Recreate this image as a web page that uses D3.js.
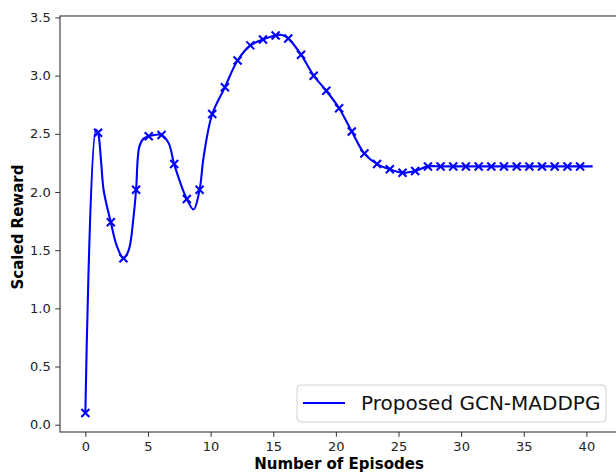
<!DOCTYPE html>
<html>
<head>
<meta charset="utf-8">
<script src="https://cdn.jsdelivr.net/npm/d3@7"></script>
<style>
  html, body { margin: 0; padding: 0; background: #fff; }
  svg { display: block; }
</style>
</head>
<body>
<svg id="chart" width="616" height="472"></svg>
<script>
// ---- data ----
const episodes = [0, 1.01, 2.03, 3.04, 4.05, 5.06, 6.08, 7.09, 8.10, 9.12,
  10.13, 11.14, 12.15, 13.17, 14.18, 15.19, 16.20, 17.22, 18.23, 19.24,
  20.26, 21.27, 22.28, 23.29, 24.31, 25.32, 26.33, 27.35, 28.36, 29.37,
  30.38, 31.40, 32.41, 33.42, 34.44, 35.45, 36.46, 37.47, 38.49, 39.50];
const reward = [0.10, 2.51, 1.74, 1.43, 2.02, 2.48, 2.49, 2.24, 1.94, 2.02,
  2.67, 2.90, 3.13, 3.26, 3.31, 3.345, 3.32, 3.18, 3.00, 2.87,
  2.72, 2.52, 2.33, 2.24, 2.195, 2.165, 2.18, 2.22, 2.22, 2.22,
  2.22, 2.22, 2.22, 2.22, 2.22, 2.22, 2.22, 2.22, 2.22, 2.22];
// extra points of the smoothed curve between markers
const curveX = [0.85, 1.25, 1.46, 2.53, 3.46, 3.85, 4.31, 4.65, 6.65, 8.64, 9.44, 15.7, 40.5];
const curveY = [2.535, 2.27, 2.015, 1.53, 1.50, 1.79, 2.39, 2.46, 2.42, 1.85, 2.30, 3.35, 2.22];
const xTicks = [0, 5, 10, 15, 20, 25, 30, 35, 40];
const yTicks = [0.0, 0.5, 1.0, 1.5, 2.0, 2.5, 3.0, 3.5];
const seriesName = "Proposed GCN-MADDPG";
const xLabel = "Number of Episodes";
const yLabel = "Scaled Reward";

// ---- layout ----
const svg = d3.select("#chart");
const L = 60, R = 618, T = 16, B = 432;
const x = d3.scaleLinear().domain([-2.025, 42.525]).range([L, R]);
const y = d3.scaleLinear().domain([-0.0625, 3.5125]).range([B, T]);
const blue = "#0000ff";
const font = "DejaVu Sans, sans-serif";

// curve points: markers + extra knots, sorted by x
const pts = episodes.map((e, i) => [e, reward[i]])
  .concat(curveX.map((e, i) => [e, curveY[i]]))
  .sort((a, b) => a[0] - b[0]);

const line = d3.line()
  .x(d => x(d[0])).y(d => y(d[1]))
  .curve(d3.curveCatmullRom.alpha(0.5));

svg.append("path")
  .datum(pts)
  .attr("d", line)
  .attr("fill", "none")
  .attr("stroke", blue)
  .attr("stroke-width", 2.1)
  .attr("stroke-linejoin", "round");

// markers 'x'
const ms = 4;
const mk = svg.append("g");
episodes.forEach((e, i) => {
  const cx = x(e), cy = y(reward[i]);
  mk.append("path")
    .attr("d", `M${cx - ms},${cy - ms}L${cx + ms},${cy + ms}M${cx - ms},${cy + ms}L${cx + ms},${cy - ms}`)
    .attr("stroke", blue).attr("stroke-width", 2.1).attr("fill", "none");
});

// axes
const xAxis = d3.axisBottom(x).tickValues(xTicks).tickSize(4.8).tickPadding(4.5)
  .tickFormat(d3.format("d"));
const yAxis = d3.axisLeft(y).tickValues(yTicks).tickSize(4.8).tickPadding(4.5)
  .tickFormat(d3.format(".1f"));

const gx = svg.append("g").attr("transform", `translate(0,${B})`).call(xAxis);
const gy = svg.append("g").attr("transform", `translate(${L},0)`).call(yAxis);
[gx, gy].forEach(g => {
  g.select(".domain").remove();
  g.selectAll(".tick line").attr("stroke", "#333").attr("stroke-width", 1);
  g.selectAll(".tick text").attr("fill", "#222")
    .style("font-family", font).style("font-size", "13px");
});

// spines
svg.append("rect")
  .attr("x", L).attr("y", T).attr("width", R - L).attr("height", B - T)
  .attr("fill", "none").attr("stroke", "#333").attr("stroke-width", 1.1);

// axis labels
svg.append("text")
  .attr("x", 339).attr("y", 469)
  .attr("text-anchor", "middle")
  .style("font-family", font).style("font-size", "15px").style("font-weight", "bold")
  .attr("fill", "#000")
  .text(xLabel);
svg.append("text")
  .attr("transform", `translate(23,${(T + B) / 2 + 3}) rotate(-90)`)
  .attr("text-anchor", "middle")
  .style("font-family", font).style("font-size", "15px").style("font-weight", "bold")
  .attr("fill", "#000")
  .text(yLabel);

// legend
const lg = svg.append("g");
lg.append("rect")
  .attr("x", 297).attr("y", 385).attr("width", 309).attr("height", 37)
  .attr("rx", 4).attr("ry", 4)
  .attr("fill", "#fff").attr("fill-opacity", 0.8)
  .attr("stroke", "#d0d0d0").attr("stroke-width", 1);
lg.append("line")
  .attr("x1", 303).attr("x2", 345).attr("y1", 403).attr("y2", 403)
  .attr("stroke", blue).attr("stroke-width", 2.1);
lg.append("text")
  .attr("x", 361).attr("y", 410)
  .style("font-family", font).style("font-size", "20px")
  .attr("fill", "#111")
  .text(seriesName);
</script>
</body>
</html>
